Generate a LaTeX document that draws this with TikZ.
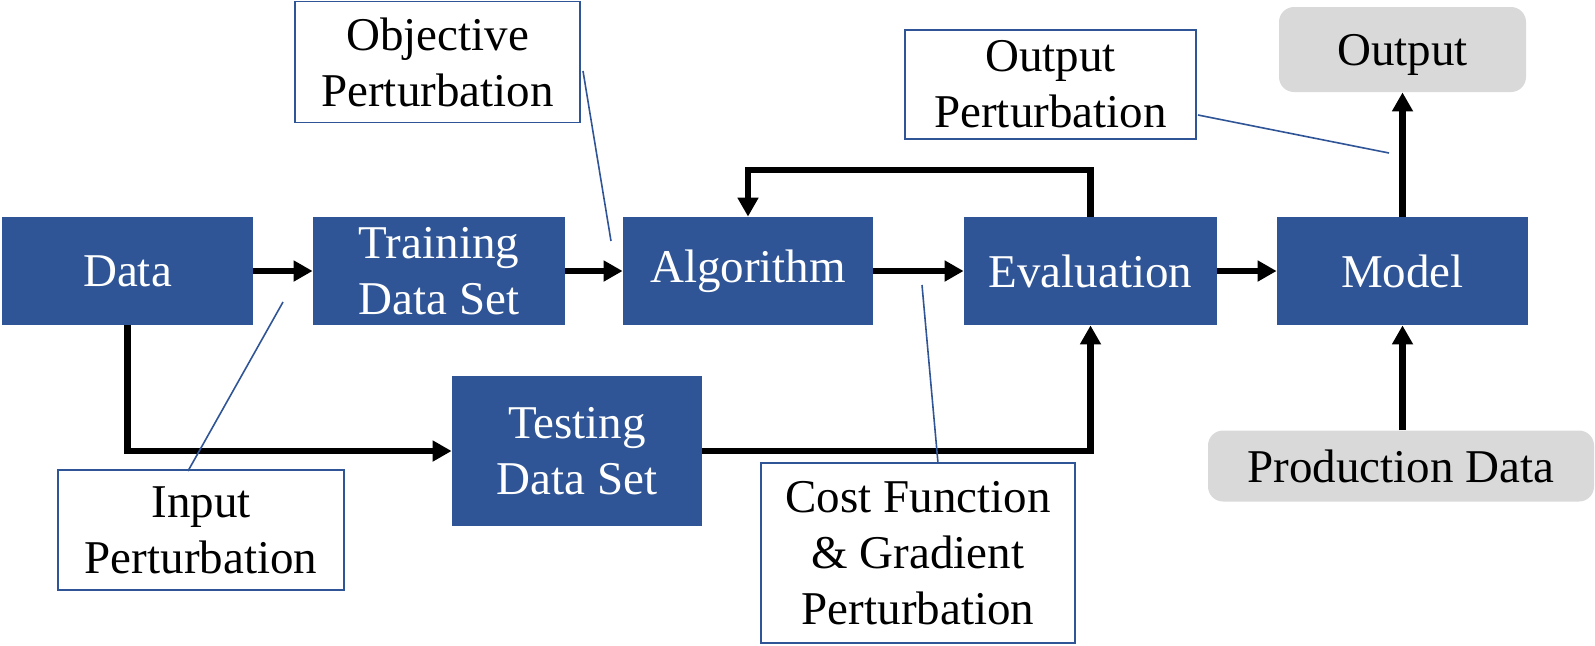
\documentclass[tikz,border=0pt]{standalone}
\usepackage{fontspec}
\setmainfont{Liberation Serif}
\usetikzlibrary{arrows.meta}
\definecolor{boxblue}{HTML}{2F5597}
\definecolor{boxgray}{HTML}{D9D9D9}
\begin{document}
\begin{tikzpicture}[x=0.5pt,y=-0.5pt,
  every node/.style={font=\fontsize{23.5}{28}\selectfont, align=center, inner sep=0pt},
  stage/.style={fill=boxblue, text=white, minimum height=54pt},
  greybox/.style={fill=boxgray, text=black, rounded corners=7.5pt},
  pert/.style={draw=boxblue, line width=0.8pt, fill=white, text=black},
  flow/.style={line width=3.2pt, -{Triangle[length=9.5pt,width=10pt]}},
  lead/.style={draw=boxblue, line width=0.8pt}]
\useasboundingbox (0,0) rectangle (1595,645);

% main pipeline
\node[stage, minimum width=125.5pt] (data)  at (127.5,271)  {Data};
\node[stage, minimum width=126pt]   (train) at (439,271)    {Training\\Data Set};
\node[stage, minimum width=125pt]   (algo)  at (748,271)    {Algorithm};
\node[stage, minimum width=126.5pt] (eval)  at (1090.5,271) {Evaluation};
\node[stage, minimum width=125.5pt] (model) at (1402.5,271) {Model};
\node[stage, minimum width=125pt, minimum height=75pt] (test) at (577,451) {Testing\\Data Set};

% external data and result
\node[greybox, minimum width=123.5pt, minimum height=42.5pt, text depth=0pt] (out) at (1402.5,49.5) {Output};
\node[greybox, minimum width=193pt,   minimum height=35.5pt] (prod) at (1401,466)  {Production Data};

% flow arrows
\draw[flow] (data) -- (train);
\draw[flow] (train) -- (algo);
\draw[flow] (algo) -- (eval);
\draw[flow] (eval) -- (model);
\coordinate (loop) at (0,170);
\draw[flow] (eval.north) |- (algo.north |- loop) -- (algo.north);
\draw[flow] (data.south) |- (test.west);
\draw[flow] (test.east) -| (eval.south);
\draw[flow] (model) -- (out);
\draw[flow] (model.south |- prod.north) -- (model.south);

% perturbation call-outs
\node[pert, minimum width=142.5pt, minimum height=60.5pt] (objp)  at (437.5,62)  {Objective\\Perturbation};
\node[pert, minimum width=145.5pt, minimum height=54.5pt] (outp)  at (1050.5,84.5) {Output\\Perturbation};
\node[pert, minimum width=143pt,   minimum height=60pt]   (inp)   at (201,530)   {Input\\Perturbation};
\node[pert, minimum width=157pt,   minimum height=90pt]   (costp) at (918,553)   {Cost Function\\\& Gradient\\Perturbation};

\coordinate (objS)  at (583,71);   \coordinate (objT)  at (611,241);
\coordinate (inpS)  at (188,471);  \coordinate (inpT)  at (283,302);
\coordinate (costS) at (938,463);  \coordinate (costT) at (922,285);
\coordinate (outS)  at (1198,115); \coordinate (outT)  at (1389,153);
\draw[lead] (objS) -- (objT);
\draw[lead] (inpS) -- (inpT);
\draw[lead] (costS) -- (costT);
\draw[lead] (outS) -- (outT);
\end{tikzpicture}
\end{document}
